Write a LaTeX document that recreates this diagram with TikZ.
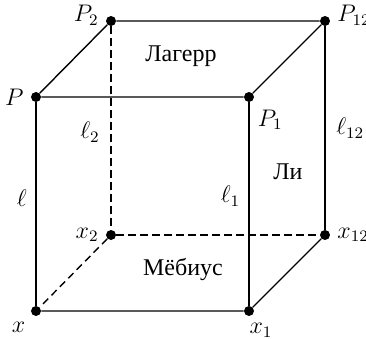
\documentclass[tikz,border=0pt]{standalone}
\usepackage{fontspec}
\newfontfamily\cyrfont{Liberation Serif}
\usetikzlibrary{positioning}

\begin{document}
\begin{tikzpicture}[
  x=0.5pt, y=0.5pt,
  pt/.style={circle, fill, inner sep=0pt, minimum size=5pt},
  edge/.style={line width=0.7pt},
  hid/.style={line width=0.7pt, dash pattern=on 3.7pt off 2.3pt},
  lab/.style={font=\large}
]
\useasboundingbox (0,0) rectangle (366,339);
\node[pt, label={[lab]left:$P$}] (p) at (36,242) {};
\node[pt, label={[lab,xshift=-1pt,yshift=-1pt]below right:$P_1$}] (p1) at (249,242) {};
\node[pt, label={[lab,yshift=3pt]left:$P_2$}] (p2) at (111,318) {};
\node[pt, label={[lab,yshift=3pt]right:$P_{12}$}] (p12) at (325,318) {};
\node[pt, label={[lab]below left:$x$}] (x) at (36,28) {};
\node[pt, label={[lab,xshift=6pt]below:$x_1$}] (x1) at (249,28) {};
\node[pt, label={[lab]left:$x_2$}] (x2) at (111,104) {};
\node[pt, label={[lab]right:$x_{12}$}] (x12) at (325,104) {};

\draw[edge] (p) -- (p1) -- (p12) -- (p2) -- (p);
\draw[edge] (p) -- node[lab, left=1pt, pos=0.47]{$\ell$} (x);
\draw[edge] (p1) -- node[lab, left=0.7pt, pos=0.46]{$\ell_1$} (x1);
\draw[edge] (p12) -- node[lab, right=2pt, pos=0.5]{$\ell_{12}$} (x12);
\draw[edge] (x) -- (x1) -- (x12);
\draw[hid] (p2) -- node[lab, left=2pt, pos=0.52]{$\ell_2$} (x2);
\draw[hid] (x2) -- (x12);
\draw[hid] (x2) -- (x);

\node[lab] (lag) at (181,283) {\cyrfont Лагерр};
\node[lab] (li) at (288,167) {\cyrfont Ли};
\node[lab] (meb) at (183,69) {\cyrfont Мёбиус};
\end{tikzpicture}
\end{document}
